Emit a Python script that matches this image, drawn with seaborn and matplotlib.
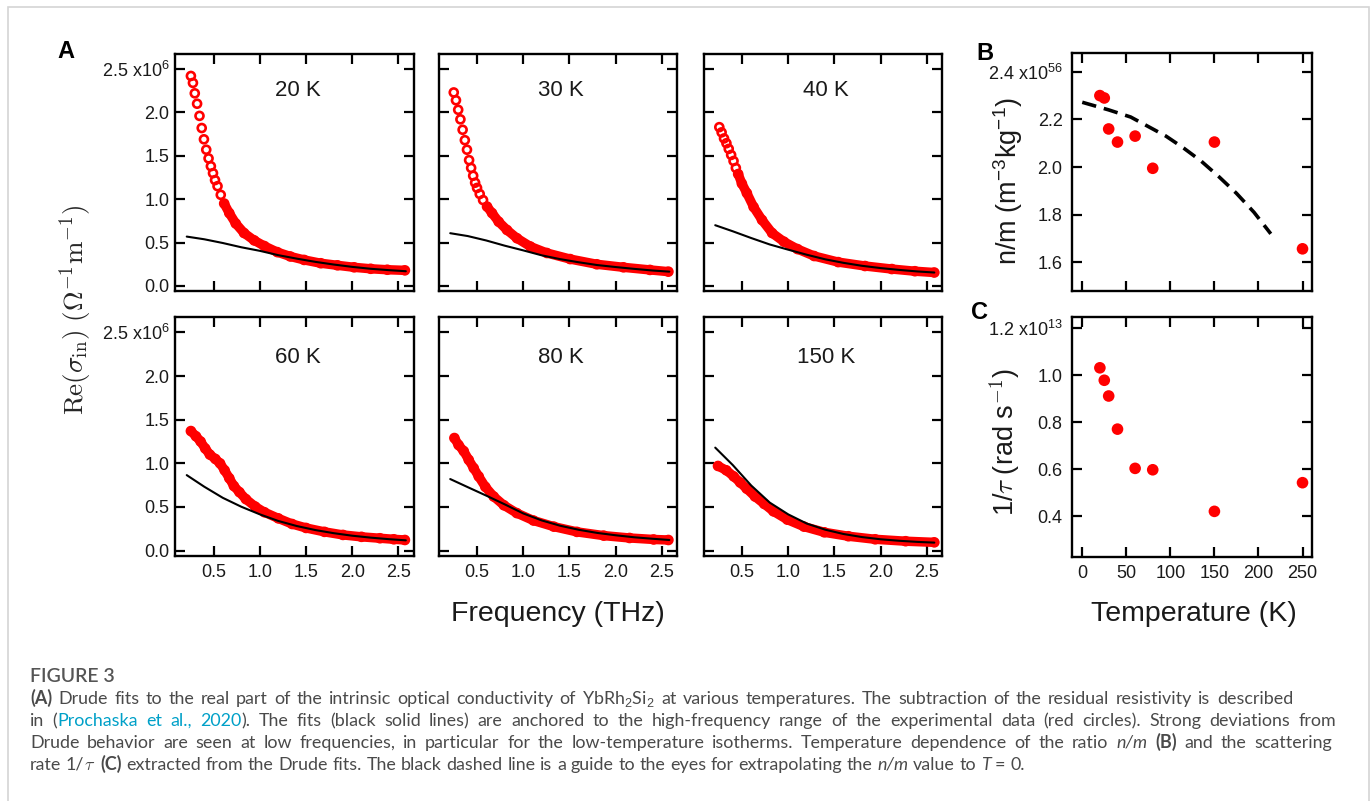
import re
import matplotlib
matplotlib.use("Agg")
import seaborn as sns
import matplotlib.pyplot as plt
from matplotlib.patches import Rectangle

# ---------------- data ----------------
# panel A: Re(sigma_in) in 1e6 (Ohm m)^-1 versus frequency in THz
temps_A = ["20 K", "30 K", "40 K", "60 K", "80 K", "150 K"]

f_20K = [0.255, 0.277, 0.297, 0.322, 0.348, 0.372, 0.396, 0.421, 0.446, 0.471, 0.494, 0.516, 0.543, 0.578,
         0.615, 0.67, 0.74, 0.83, 0.94, 1.05, 1.19, 1.33, 1.48, 1.66, 1.84, 2.02, 2.20, 2.38, 2.57]
s_20K = [2.42, 2.34, 2.22, 2.10, 1.96, 1.82, 1.69, 1.57, 1.47, 1.38, 1.30, 1.22, 1.15, 1.05,
         0.95, 0.84, 0.72, 0.61, 0.525, 0.46, 0.39, 0.34, 0.30, 0.262, 0.238, 0.215, 0.198, 0.187, 0.18]

f_30K = [0.248, 0.272, 0.296, 0.320, 0.344, 0.368, 0.391, 0.414, 0.436, 0.458, 0.479, 0.50, 0.529, 0.565,
         0.608, 0.662, 0.734, 0.824, 0.932, 1.076, 1.255, 1.507, 1.795, 2.083, 2.37, 2.57]
s_30K = [2.23, 2.14, 2.03, 1.92, 1.80, 1.68, 1.57, 1.45, 1.36, 1.27, 1.19, 1.13, 1.06, 0.99,
         0.915, 0.84, 0.74, 0.645, 0.55, 0.455, 0.38, 0.31, 0.25, 0.215, 0.185, 0.165]

f_40K = [0.254, 0.279, 0.305, 0.331, 0.356, 0.382, 0.408, 0.433, 0.458, 0.498, 0.552, 0.625, 0.716, 0.825,
         0.953, 1.10, 1.28, 1.54, 1.83, 2.12, 2.37, 2.58]
s_40K = [1.83, 1.77, 1.70, 1.645, 1.58, 1.51, 1.44, 1.36, 1.29, 1.18, 1.07, 0.91, 0.76, 0.61,
         0.51, 0.425, 0.345, 0.275, 0.23, 0.195, 0.17, 0.155]

f_60K = [0.255, 0.31, 0.36, 0.41, 0.46, 0.52, 0.57, 0.62, 0.67, 0.72, 0.78, 0.85, 0.95, 1.05, 1.2,
         1.35, 1.5, 1.7, 1.9, 2.1, 2.3, 2.45, 2.57]
s_60K = [1.37, 1.31, 1.25, 1.17, 1.10, 1.05, 1.00, 0.92, 0.83, 0.74, 0.67, 0.59, 0.505, 0.44, 0.37,
         0.305, 0.26, 0.215, 0.18, 0.158, 0.142, 0.13, 0.122]

f_80K = [0.255, 0.30, 0.356, 0.41, 0.464, 0.518, 0.59, 0.68, 0.79, 0.93, 1.11, 1.33, 1.58, 1.87,
         2.15, 2.41, 2.57]
s_80K = [1.29, 1.21, 1.14, 1.04, 0.945, 0.85, 0.73, 0.62, 0.52, 0.43, 0.345, 0.275, 0.215, 0.172,
         0.145, 0.128, 0.122]

f_150K = [0.24, 0.33, 0.41, 0.48, 0.55, 0.64, 0.74, 0.84, 0.99, 1.17, 1.39, 1.65, 1.94, 2.27, 2.58]
s_150K = [0.97, 0.92, 0.85, 0.78, 0.71, 0.62, 0.535, 0.45, 0.355, 0.275, 0.21, 0.165, 0.13, 0.108, 0.095]

# Drude fits (black solid lines)
f_fit = [0.21, 0.4, 0.6, 0.8, 1.0, 1.2, 1.4, 1.6, 1.8, 2.0, 2.2, 2.4, 2.58]
fit_20K = [0.569, 0.538, 0.495, 0.446, 0.405, 0.355, 0.315, 0.278, 0.247, 0.22, 0.198, 0.182, 0.17]
fit_30K = [0.608, 0.575, 0.524, 0.464, 0.41, 0.353, 0.309, 0.273, 0.241, 0.218, 0.197, 0.178, 0.165]
fit_40K = [0.70, 0.63, 0.552, 0.478, 0.418, 0.36, 0.307, 0.266, 0.232, 0.206, 0.185, 0.167, 0.155]
fit_60K = [0.865, 0.732, 0.605, 0.503, 0.416, 0.34, 0.282, 0.236, 0.2, 0.171, 0.149, 0.131, 0.118]
fit_80K = [0.82, 0.727, 0.63, 0.53, 0.426, 0.346, 0.285, 0.239, 0.203, 0.176, 0.153, 0.136, 0.122]
fit_150K = [1.18, 0.98, 0.745, 0.55, 0.415, 0.31, 0.24, 0.19, 0.155, 0.13, 0.113, 0.1, 0.092]

# panels B and C
temperature = [20, 25, 30, 40, 60, 80, 150, 250]
n_over_m = [2.30, 2.29, 2.16, 2.105, 2.13, 1.995, 2.105, 1.657]   # x1e56
inv_tau = [1.032, 0.979, 0.912, 0.771, 0.604, 0.598, 0.421, 0.543]  # x1e13
guide_T = [0, 30, 55, 75, 95, 115, 135, 155, 175, 195, 214]
guide_nm = [2.272, 2.24, 2.21, 2.17, 2.13, 2.08, 2.025, 1.96, 1.89, 1.81, 1.72]

# ---------------- style ----------------
sns.set_style("ticks")
plt.rcParams["font.family"] = ["Liberation Sans", "DejaVu Sans"]
plt.rcParams["mathtext.fontset"] = "custom"
plt.rcParams["mathtext.rm"] = "Liberation Sans"
plt.rcParams["mathtext.it"] = "Liberation Sans:italic"
plt.rcParams["mathtext.bf"] = "Liberation Sans:bold"
plt.rcParams["mathtext.sf"] = "Liberation Sans"

W, H = 1372, 801
fig = plt.figure(figsize=(W / 100, H / 100), dpi=100)
fig.patch.set_facecolor("white")


def add_ax(left, top, right, bottom):
    return fig.add_axes([left / W, 1 - bottom / H, (right - left) / W, (bottom - top) / H])


def style_ax(ax):
    for sp in ax.spines.values():
        sp.set_visible(True)
        sp.set_linewidth(1.7)
        sp.set_color("black")
    ax.tick_params(direction="in", length=7.5, width=1.6, top=True, right=True,
                   labelsize=13, colors="black", labelcolor="#1a1a1a")
    ax.tick_params(axis="x", pad=6)
    ax.tick_params(axis="y", pad=4)
    ax.set_xlabel("")
    ax.set_ylabel("")
    ax.set_facecolor("white")


# ---------------- panel A ----------------
freqs = [f_20K, f_30K, f_40K, f_60K, f_80K, f_150K]
sigmas = [s_20K, s_30K, s_40K, s_60K, s_80K, s_150K]
fits = [fit_20K, fit_30K, fit_40K, fit_60K, fit_80K, fit_150K]
band_from = [0.6, 0.6, 0.45, 0.0, 0.0, 0.0]   # where the circles merge into a solid band

col_left = [175, 438.5, 703.5]
row_top = [54, 317.3]
row_bot = [291, 555.7]
title_y = [0.845, 0.83]

for i, label in enumerate(temps_A):
    r, c = divmod(i, 3)
    ax = add_ax(col_left[c], row_top[r], col_left[c] + 238.5, row_bot[r])
    f, s = freqs[i], sigmas[i]
    fb = [x for x in f if x >= band_from[i]]
    sb = [y for x, y in zip(f, s) if x >= band_from[i]]
    sns.lineplot(x=fb, y=sb, ax=ax, color="red", linewidth=6.8, estimator=None, sort=False,
                 solid_capstyle="round", solid_joinstyle="round", zorder=2)
    sns.scatterplot(x=f, y=s, ax=ax, s=33, marker="o", facecolor="none", edgecolor="red",
                    linewidth=1.9, zorder=3)
    sns.lineplot(x=f_fit, y=fits[i], ax=ax, color="black", linewidth=1.5, estimator=None, sort=False, zorder=4)
    ax.set_xlim(0.083, 2.663)
    ax.set_ylim(-0.058, 2.673)
    ax.set_xticks([0.5, 1.0, 1.5, 2.0, 2.5])
    ax.set_yticks([0.0, 0.5, 1.0, 1.5, 2.0, 2.5])
    ax.set_xticklabels(["0.5", "1.0", "1.5", "2.0", "2.5"])
    ax.set_yticklabels(["0.0", "0.5", "1.0", "1.5", "2.0", r"2.5 x10$^{6}$"])
    style_ax(ax)
    ax.tick_params(labelbottom=(r == 1), labelleft=(c == 0))
    ax.text(0.515, title_y[r], label, transform=ax.transAxes, ha="center", va="center",
            fontsize=16, color="#1a1a1a")

fig.text(76 / W, 1 - 310 / H, r"$\mathrm{Re}(\sigma_{\mathrm{in}})\ (\Omega^{-1}\mathrm{m}^{-1})$",
         rotation=90, ha="center", va="center", fontsize=19.5, math_fontfamily="cm")
fig.text(557.5 / W, 1 - 614 / H, "Frequency (THz)", ha="center", va="center", fontsize=20.5,
         color="#1a1a1a")

# ---------------- panels B and C ----------------
axB = add_ax(1072.3, 52.7, 1311.5, 291)
sns.lineplot(x=guide_T, y=guide_nm, ax=axB, color="black", linewidth=2.6, linestyle=(0, (4, 2.2)),
             estimator=None, sort=False)
sns.scatterplot(x=temperature, y=n_over_m, ax=axB, color="red", s=70, edgecolor="none", zorder=3)
axB.set_xlim(-11.3, 260.2)
axB.set_ylim(1.48, 2.48)
axB.set_xticks([0, 50, 100, 150, 200, 250])
axB.set_yticks([1.6, 1.8, 2.0, 2.2, 2.4])
axB.set_yticklabels(["1.6", "1.8", "2.0", "2.2", r"2.4 x10$^{56}$"])
style_ax(axB)
axB.tick_params(labelbottom=False)
axB.tick_params(axis="y", pad=7)

axC = add_ax(1072.3, 317.3, 1311.5, 556.7)
sns.scatterplot(x=temperature, y=inv_tau, ax=axC, color="red", s=70, edgecolor="none", zorder=3)
axC.set_xlim(-11.3, 260.2)
axC.set_ylim(0.228, 1.247)
axC.set_xticks([0, 50, 100, 150, 200, 250])
axC.set_xticklabels(["0", "50", "100", "150", "200", "250"])
axC.set_yticks([0.4, 0.6, 0.8, 1.0, 1.2])
axC.set_yticklabels(["0.4", "0.6", "0.8", "1.0", r"1.2 x10$^{13}$"])
style_ax(axC)
axC.tick_params(axis="y", pad=7)

fig.text(1008 / W, 1 - 181 / H, r"n/m (m$^{-3}$kg$^{-1}$)", rotation=90, ha="center", va="center",
         fontsize=19.5, color="#1a1a1a")
fig.text(1005 / W, 1 - 442 / H, r"1/$\tau$ (rad s$^{\mathsf{-1}}$)", rotation=90, ha="center",
         va="center", fontsize=19.5, color="#1a1a1a", math_fontfamily="cm")
fig.text(1194 / W, 1 - 614 / H, "Temperature (K)", ha="center", va="center", fontsize=20.5,
         color="#1a1a1a")

# panel letters
for letter, x, y in [("A", 66, 51), ("B", 985, 53), ("C", 980, 312)]:
    fig.text(x / W, 1 - y / H, letter, ha="center", va="center", fontsize=17, weight="bold", color="black")

# ---------------- caption ----------------
fig.add_artist(Rectangle((8 / W, -0.2), (1369 - 8) / W, 1.2 - 7 / H, transform=fig.transFigure,
                         fill=False, edgecolor="#d4d4d4", linewidth=1.2))

cap_color = "#4a4a4a"
link_color = "#00a0c8"
cap_font = "Lato"
cap_size = 12.9
renderer = fig.canvas.get_renderer()


def width_of(t):
    return t.get_window_extent(renderer).width


p1 = fig.text(0, 0, "x x", family=cap_font, size=cap_size)
p2 = fig.text(0, 0, "xx", family=cap_font, size=cap_size)
space_w = width_of(p1) - width_of(p2)
p1.remove()
p2.remove()


def caption_line(parts, y_px, x0=30, x1=None):
    # one word per text artist, so the line can be justified to end at x1
    words = []
    for txt, kind in parts:
        for piece in re.split(r"( )", txt):
            if not piece:
                continue
            if piece == " ":
                words.append(None)
                continue
            kw = dict(family=cap_font, size=cap_size, color=cap_color)
            if kind == "b":
                kw["weight"] = "bold"
            elif kind == "i":
                kw["style"] = "italic"
            elif kind == "link":
                kw["color"] = link_color
            elif kind == "tau":
                kw["math_fontfamily"] = "cm"
            words.append(fig.text(0, 1 - y_px / H, piece, ha="left", va="baseline", **kw))
    n_sp = sum(w is None for w in words)
    natural = sum(width_of(w) for w in words if w is not None) + n_sp * space_w
    gap = space_w
    if x1 is not None and n_sp:
        gap = space_w + (x1 - x0 - natural) / n_sp
    x = x0
    for w in words:
        if w is None:
            x += gap
        else:
            w.set_x(x / W)
            x += width_of(w)


fig.text(30 / W, 1 - 682 / H, "FIGURE 3", family=cap_font, size=14, weight="semibold",
         color="#555555", va="baseline")
caption_line([("(A)", "b"),
              (" Drude fits to the real part of the intrinsic optical conductivity of YbRh$_2$Si$_2$ at various "
               "temperatures. The subtraction of the residual resistivity is described", "n")], 704, x1=1293)
caption_line([("in (", "n"), ("Prochaska et al., 2020", "link"),
              ("). The fits (black solid lines) are anchored to the high-frequency range of the experimental "
               "data (red circles). Strong deviations from", "n")], 726, x1=1336)
caption_line([("Drude behavior are seen at low frequencies, in particular for the low-temperature isotherms. "
               "Temperature dependence of the ratio ", "n"), ("n/m", "i"), (" ", "n"), ("(B)", "b"),
              (" and the scattering", "n")], 748, x1=1332)
caption_line([("rate 1/", "n"), (r"$\tau$", "tau"), (" ", "n"), ("(C)", "b"),
              (" extracted from the Drude fits. The black dashed line is a guide to the eyes for extrapolating the ",
               "n"), ("n/m", "i"), (" value to ", "n"), ("T", "i"), (" = 0.", "n")], 770)

fig.savefig("out.png", dpi=100, facecolor="white")
